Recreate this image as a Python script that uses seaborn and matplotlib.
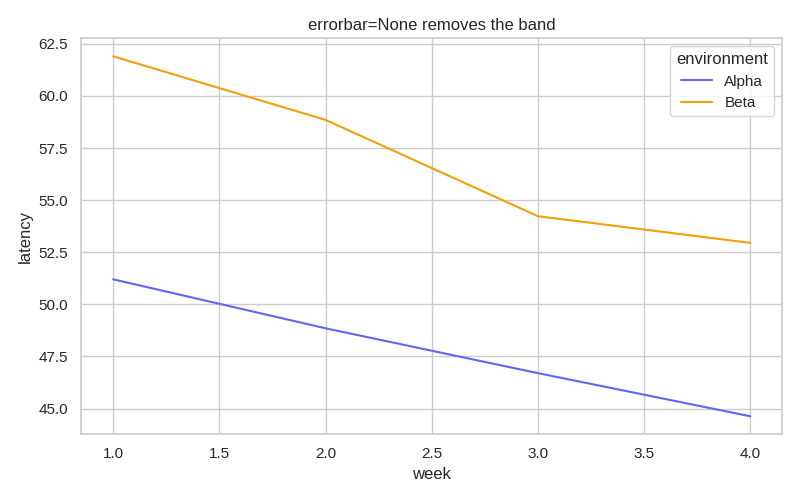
import matplotlib
matplotlib.use("Agg")
import matplotlib.pyplot as plt
import seaborn as sns
import pandas as pd

weeks = [1, 2, 3, 4]
alpha_latency = [51.2, 48.85, 46.70, 44.63]
beta_latency = [61.9, 58.85, 54.23, 52.95]
environments = ["Alpha", "Beta"]
colors = {"Alpha": "#6366F1", "Beta": "#F59E0B"}

df = pd.DataFrame({
    "week": weeks + weeks,
    "latency": alpha_latency + beta_latency,
    "environment": ["Alpha"] * len(weeks) + ["Beta"] * len(weeks),
})

sns.set_theme(style="whitegrid")
plt.rcParams["font.family"] = ["Liberation Sans", "DejaVu Sans"]
fig, ax = plt.subplots(figsize=(8, 5), dpi=100)
sns.lineplot(data=df, x="week", y="latency", hue="environment",
             hue_order=environments, palette=colors, errorbar=None, ax=ax)
ax.set_title("errorbar=None removes the band")
fig.tight_layout()
fig.savefig("out.png")
